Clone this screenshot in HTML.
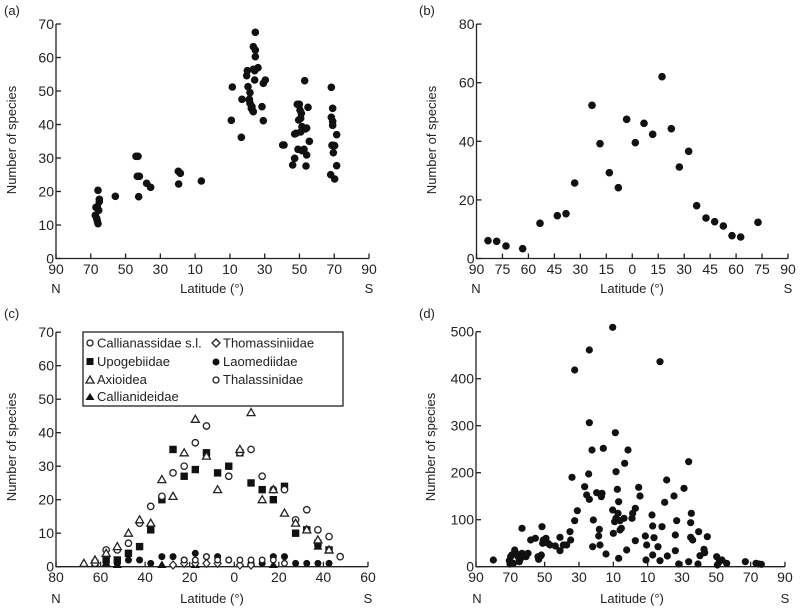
<!DOCTYPE html>
<html><head><meta charset="utf-8"><style>
html,body{margin:0;padding:0;background:#fff;}
svg{display:block;font-family:"Liberation Sans",sans-serif;}
text{fill:#222;}
</style></head><body>
<svg id="s" width="800" height="609" viewBox="0 0 800 609" xmlns="http://www.w3.org/2000/svg">
<g font-size="13">
<text x="4" y="15">(a)</text>
<text x="419" y="15">(b)</text>
<text x="4" y="318">(c)</text>
<text x="419" y="318">(d)</text>
</g>
<g font-size="13" text-anchor="middle">
<text transform="translate(16,140) rotate(-90)">Number of species</text>
<text transform="translate(436,140) rotate(-90)">Number of species</text>
<text transform="translate(16,447) rotate(-90)">Number of species</text>
<text transform="translate(435,447) rotate(-90)">Number of species</text>
<text x="212" y="293">Latitude (°)</text>
<text x="632" y="293">Latitude (°)</text>
<text x="212" y="603">Latitude (°)</text>
<text x="632" y="603">Latitude (°)</text>
<text x="56" y="293">N</text><text x="369" y="293">S</text>
<text x="476" y="293">N</text><text x="788" y="293">S</text>
<text x="56" y="603">N</text><text x="368" y="603">S</text>
<text x="477" y="603">N</text><text x="785" y="603">S</text>
</g>
<g id="axes" stroke="#222" stroke-width="1.3" fill="none"></g>
<g id="lbl" font-size="14"></g>
<g id="pts"></g>
<rect x="83" y="332" width="260" height="74" fill="#fff" stroke="#222" stroke-width="1.3"/>
<g font-size="13">
<circle cx="90" cy="343" r="3" fill="#fff" stroke="#222" stroke-width="1.3"/><text x="97" y="347.5">Callianassidae s.l.</text>
<rect x="86.5" y="358" width="7" height="7" fill="#111"/><text x="97" y="366">Upogebiidae</text>
<path d="M90,376 L94,383 L86,383 Z" fill="#fff" stroke="#222" stroke-width="1.3"/><text x="97" y="384">Axioidea</text>
<path d="M90,393 L94.5,400 L85.5,400 Z" fill="#111"/><text x="97" y="401">Callianideidae</text>
<path d="M216,339 L220,343 L216,347 L212,343 Z" fill="#fff" stroke="#222" stroke-width="1.3"/><text x="223" y="347.5">Thomassiniidae</text>
<circle cx="216" cy="362" r="3.5" fill="#111"/><text x="223" y="366">Laomediidae</text>
<circle cx="216" cy="380" r="3" fill="#fff" stroke="#222" stroke-width="1.3"/><text x="223" y="384">Thalassinidae</text>
</g>
</svg>
<script>
var NS="http://www.w3.org/2000/svg";
function el(p,t,a,txt){var e=document.createElementNS(NS,t);for(var k in a)e.setAttribute(k,a[k]);if(txt!==undefined)e.textContent=txt;document.getElementById(p).appendChild(e);return e;}
function panel(x0,x1,y0,yTop,yt,xt){
 el("axes","path",{d:"M"+x0+","+yTop+" L"+x0+","+y0+" L"+x1+","+y0});
 yt.forEach(function(t){el("axes","path",{d:"M"+(x0+5)+","+t[1]+" L"+x0+","+t[1]});
  el("lbl","text",{x:x0-2,y:t[1]+5,"text-anchor":"end"},t[0]);});
 xt.forEach(function(t){el("axes","path",{d:"M"+t[1]+","+y0+" L"+t[1]+","+(y0-5)});
  el("lbl","text",{x:t[1],y:y0+15.5,"text-anchor":"middle"},t[0]);});
}
var yt=[],xt=[],i;
for(i=0;i<=7;i++)yt.push([i*10,258.5-i*33.5]);
var la=["90","70","50","30","10","10","30","50","70","90"];
for(i=0;i<10;i++)xt.push([la[i],56+i*34.78]);
panel(56,369,258.5,24,yt,xt);
yt=[];xt=[];
for(i=0;i<=4;i++)yt.push([i*20,258.5-i*58.6]);
var lb=["90","75","60","45","30","15","0","15","30","45","60","75","90"];
for(i=0;i<13;i++)xt.push([lb[i],476.5+i*25.96]);
panel(476.5,788,258.5,24,yt,xt);
yt=[];xt=[];
for(i=0;i<=7;i++)yt.push([i*10,566.7-i*33.5]);
var lc=["80","60","40","20","0","20","40","60"];
for(i=0;i<8;i++)xt.push([lc[i],56+i*44.57]);
panel(56,368,566.7,332,yt,xt);
yt=[];xt=[];
for(i=0;i<=5;i++)yt.push([i*100,566.7-i*47]);
for(i=0;i<10;i++)xt.push([la[i],476+i*34.33]);
panel(476,785,566.7,331.7,yt,xt);

function dot(x,y,r){el("pts","circle",{cx:x,cy:y,r:r||3.8,fill:"#111"});}
var A=[[294,571],[298,598],[298,605],[292,620],[288,622],[296,631],[286,646],[290,655],[292,663],[294,671],[346,589],[408,469],[414,469],[418,529],[412,529],[416,590],[440,550],[452,562],[535,514],[541,520],[536,552],[604,543],
[697,261],[694,361],[726,298],[724,412],[742,212],[740,227],[744,260],[750,278],[748,298],[750,310],[754,325],[758,332],[760,335],[766,97],[760,140],[766,150],[766,170],[764,212],[774,203],[764,240],[786,320],[790,362],[796,240],[790,250],[760,208],[748,300],[756,320],
[848,435],[852,435],[878,495],[884,475],[884,402],[888,400],[892,313],[898,313],[900,330],[902,355],[906,380],[902,396],[894,448],[906,452],[912,448],[916,387],[914,242],[920,384],[920,465],[918,498],[924,322],[928,424],[904,340],[896,360],
[994,262],[998,325],[994,352],[998,364],[998,376],[1000,436],[996,436],[1004,437],[1000,458],[992,524],[1004,537],[1010,497],[1010,404]];
A.forEach(function(p){dot(p[0]/3,p[1]/3);});
var B=[[264,722],[290,724],[318,738],[368,746],[420,670],[472,647],[498,641],[524,549],[576,316],[600,431],[628,518],[655,563],[680,358],[706,428],[732,370],[758,403],[786,230],[814,386],[838,501],[866,454],[890,617],[918,654],[944,665],[970,678],[996,707],[1022,711],[1074,667]];
B.forEach(function(p){dot(400+p[0]/3,p[1]/3);});
var D=[[280,780],[328,782],[330,792],[332,770],[335,765],[340,790],[344,750],[348,760],[354,770],[358,785],[362,775],[366,685],[366,760],[370,765],[378,770],[384,760],[392,720],[406,715],[414,770],[416,778],[422,768],[424,765],[426,680],[428,730],[430,720],[438,715],[444,730],[450,735],[466,738],[480,712],[480,752],[490,735],[500,735],[510,695],[512,720],[516,532],[524,662],[524,210],[532,632],[554,560],[560,585],[566,522],[568,368],[568,598],[568,150],[576,450],[578,740],[580,660],[590,578],[596,708],[598,688],[600,735],[604,590],[606,580],[610,445],[618,762],[638,630],[640,700],[638,82],[644,665],[646,398],[648,515],[648,655],[652,568],[656,605],[654,640],[656,775],[660,662],[660,690],[664,685],[672,655],[674,490],[680,750],[684,450],[696,655],[698,640],[706,625],[706,722],[716,562],[720,588],[736,708],[738,780],[740,735],[756,645],[758,678],[758,765],[762,713],[774,740],[780,185],[780,782],[786,680],[794,607],[800,540],[802,768],[822,588],[826,705],[826,752],[830,662],[836,792],[852,565],[866,485],[866,785],[872,668],[872,712],[874,640],[878,720],[896,695],[894,792],[900,767],[912,748],[914,758],[922,710],[950,770],[952,795],[958,785],[966,780],[980,790],[1036,785],[1068,790],[1076,792],[1084,793]];
D.forEach(function(p){dot(400+p[0]/3,300+p[1]/3,3.6);});
function cx(L){return 56+(80-L)*2.229;}
function cy(v){return 566.7-v*3.35;}
function ocirc(L,v,r){el("pts","circle",{cx:cx(L),cy:cy(v),r:r||3.2,fill:"#fff",stroke:"#222","stroke-width":1.3});}
function sq(L,v){el("pts","rect",{x:cx(L)-3.7,y:cy(v)-3.7,width:7.4,height:7.4,fill:"#111"});}
function otri(L,v){var x=cx(L),y=cy(v);el("pts","path",{d:"M"+x+","+(y-4)+" L"+(x+4)+","+(y+3)+" L"+(x-4)+","+(y+3)+" Z",fill:"#fff",stroke:"#222","stroke-width":1.3});}
function ftri(L,v){var x=cx(L),y=cy(v);el("pts","path",{d:"M"+x+","+(y-4.5)+" L"+(x+4.5)+","+(y+3)+" L"+(x-4.5)+","+(y+3)+" Z",fill:"#111"});}
function diam(L,v){var x=cx(L),y=cy(v);el("pts","path",{d:"M"+x+","+(y-4)+" L"+(x+3.5)+","+y+" L"+x+","+(y+4)+" L"+(x-3.5)+","+y+" Z",fill:"#fff",stroke:"#222","stroke-width":1.2});}
function fc(L,v){el("pts","circle",{cx:cx(L),cy:cy(v),r:3.5,fill:"#111"});}
[[62.5,1],[57.5,2],[52.5,2],[47.5,4],[42.5,6],[37.5,11],[32.5,20],[27.5,35],[22.5,27],[17.5,29],[12.5,34],[7.5,28],[2.5,30],[-2.5,34],[-7.5,25],[-12.5,23],[-17.5,20],[-22.5,24],[-27.5,10],[-32.5,11],[-37.5,7],[-42.5,5]].forEach(function(p){sq(p[0],p[1]);});
[[52.5,1],[47.5,2],[42.5,2],[37.5,1],[32.5,3],[27.5,3],[22.5,2],[17.5,4],[12.5,3],[7.5,3],[2.5,2],[-7.5,1],[-12.5,1],[-17.5,3],[-22.5,3],[-27.5,1],[-32.5,1],[-37.5,1],[-42.5,1]].forEach(function(p){fc(p[0],p[1]);});
[[57.5,1],[52.5,0.5],[32.5,0.5],[17.5,0.5],[-17.5,0.5],[-37.5,6]].forEach(function(p){ftri(p[0],p[1]);});
[[27.5,0.5],[22.5,1],[17.5,1],[12.5,1],[7.5,1],[-2.5,0.5],[-7.5,0.5]].forEach(function(p){diam(p[0],p[1]);});
[[22.5,2],[17.5,2],[12.5,3],[7.5,2],[2.5,2],[-2.5,2],[-7.5,2],[-12.5,2],[-17.5,2],[-22.5,1]].forEach(function(p){ocirc(p[0],p[1],2.8);});
[[62.5,1],[57.5,5],[52.5,5],[47.5,7],[42.5,13],[37.5,18],[32.5,21],[27.5,28],[22.5,30],[17.5,37],[12.5,42],[2.5,27],[-2.5,34],[-7.5,35],[-12.5,27],[-17.5,23],[-22.5,23],[-27.5,14],[-32.5,17],[-37.5,11],[-42.5,9],[-47.5,3]].forEach(function(p){ocirc(p[0],p[1]);});
[[67.5,1],[62.5,2],[57.5,4],[52.5,6],[47.5,10],[42.5,14],[37.5,13],[32.5,26],[27.5,21],[22.5,34],[17.5,44],[12.5,33],[7.5,23],[-2.5,35],[-7.5,46],[-12.5,20],[-17.5,23],[-22.5,16],[-27.5,13],[-32.5,11],[-37.5,8],[-42.5,5]].forEach(function(p){otri(p[0],p[1]);});
</script>
</body></html>
